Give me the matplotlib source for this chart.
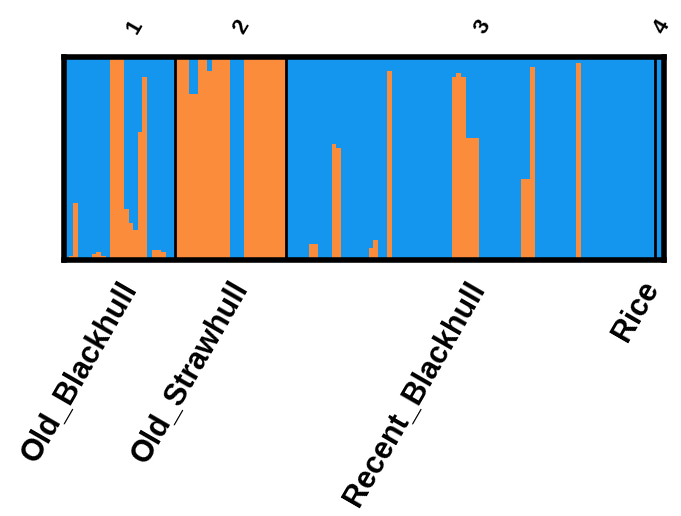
import matplotlib.pyplot as plt
import numpy as np
from matplotlib.transforms import ScaledTranslation

plt.rcParams['font.family'] = ['Liberation Sans', 'DejaVu Sans']

# STRUCTURE-style membership (K=2): share of the orange cluster per individual
groups = ['Old_Blackhull', 'Old_Strawhull', 'Recent_Blackhull', 'Rice']
group_ids = ['1', '2', '3', '4']

old_blackhull = [0, .02, .28, 0, 0,
                 0, .03, .04, .02, 0,
                 1, 1, 1, .25, .18,
                 .15, .63, .9, 0, .05,
                 .05, .04, 0, 0]
old_strawhull = [1, 1, 1, .82, .82,
                 1, 1, .93, 1, 1,
                 1, 1, 0, 0, 0,
                 1, 1, 1, 1, 1,
                 1, 1, 1, 1]
recent_blackhull = [0, 0, 0, 0, 0,
                    .08, .08, 0, 0, 0,
                    .57, .55, 0, 0, 0,
                    0, 0, 0, .06, .1,
                    0, 0, .93, 0, 0,
                    0, 0, 0, 0, 0,
                    0, 0, 0, 0, 0,
                    0, .9, .92, .9, .6,
                    .6, .6, 0, 0, 0,
                    0, 0, 0, 0, 0,
                    0, .4, .4, .95, 0,
                    0, 0, 0, 0, 0,
                    0, 0, 0, .97, 0,
                    0, 0, 0, 0, 0,
                    0, 0, 0, 0, 0,
                    0, 0, 0, 0, 0]
rice = [0, 0]

blue = '#1496EE'
orange = '#FA8C3C'

data = [old_blackhull, old_strawhull, recent_blackhull, rice]
q = np.concatenate([np.array(d, dtype=float) for d in data])
x = np.arange(len(q))
sizes = np.array([len(d) for d in data])
bounds = np.concatenate([[0], np.cumsum(sizes)])
centers = (bounds[:-1] + bounds[1:]) / 2

fig = plt.figure(figsize=(6.81, 5.16), dpi=100)
ax = fig.add_axes([64 / 681, 1 - 260 / 516, 600 / 681, 203 / 516])

ax.bar(x, q, width=1, align='edge', color=orange, linewidth=0)
ax.bar(x, 1 - q, bottom=q, width=1, align='edge', color=blue, linewidth=0)

for b in bounds[1:-1]:
    ax.axvline(b, color='black', lw=2)

ax.set_xlim(0, len(q))
ax.set_ylim(0, 1)
for s in ax.spines.values():
    s.set_linewidth(4)
    s.set_color('black')

ax.set_yticks([])
ax.set_xticks(centers)
ax.set_xticklabels(groups, rotation=60, ha='right', va='center',
                   rotation_mode='anchor', fontsize=22, fontweight='bold')
ax.tick_params(axis='x', length=0, pad=17)
# small sideways nudges (points) so labels sit like the original
label_dx = [8, 8, 6, -5]
for lab, dx in zip(ax.get_xticklabels(), label_dx):
    lab.set_transform(lab.get_transform() +
                      ScaledTranslation(dx / 72, 0, fig.dpi_scale_trans))

id_dx = [11, 8, 9, 2]
for c, gid, dx in zip(centers, group_ids, id_dx):
    t = ax.text(c, 1.15, gid, transform=ax.get_xaxis_transform(), rotation=60,
                ha='center', va='center', fontsize=16, fontweight='bold')
    t.set_transform(t.get_transform() +
                    ScaledTranslation(dx / 72, 0, fig.dpi_scale_trans))

plt.savefig('out.png', dpi=100)
plt.close()
